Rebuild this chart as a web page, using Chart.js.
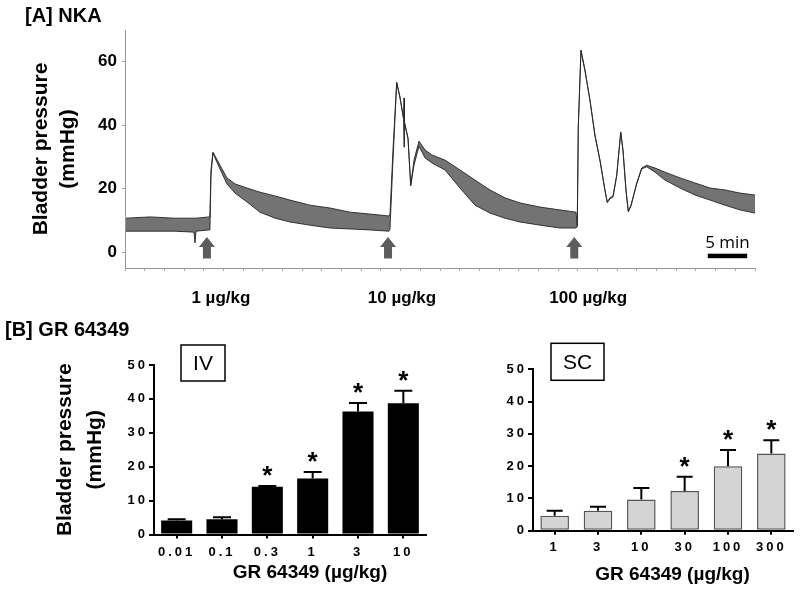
<!DOCTYPE html>
<html>
<head>
<meta charset="utf-8">
<script src="https://cdn.jsdelivr.net/npm/chart.js@4.4.1/dist/chart.umd.min.js"></script>
<style>
  body { margin: 0; background: #fff; }
  #page { position: relative; width: 800px; height: 589px; overflow: hidden; font-family: 'Liberation Sans', Arial, sans-serif; }
  canvas { position: absolute; }
  .panel-title { position: absolute; font-weight: bold; font-size: 20px; line-height: 24px; white-space: nowrap; }
</style>
</head>
<body>
<div id="page">
  <canvas id="traceChart" width="800" height="320" style="left:0;top:0"></canvas>
  <canvas id="ivChart" width="430" height="259" style="left:0;top:330px"></canvas>
  <canvas id="scChart" width="370" height="259" style="left:430px;top:330px"></canvas>
  <div class="panel-title" style="left:25px;top:3px">[A] NKA</div>
  <div class="panel-title" style="left:5px;top:317px">[B] GR 64349</div>
</div>
<script>
// ---- panel A: bladder pressure trace (time in min, pressure in mmHg)
const traceTime = [0.1, 3.2, 6.3, 8.76, 8.89, 9.02, 10.67, 10.79, 10.92, 11.17, 12.06, 12.95, 13.97, 15.49,
  17.14, 19.05, 20.95, 23.49, 26.03, 28.57, 31.11, 33.52, 33.65, 34.03, 34.5, 34.92, 35.37, 35.43, 35.49,
  35.94, 36.28, 36.7, 37.33, 38.1, 38.98, 40.63, 42.54, 44.44, 46.35, 48.25, 50.16, 52.7, 55.24, 57.27,
  57.43, 57.56, 57.9, 58.41, 59.05, 59.68, 60.32, 60.95, 61.24, 61.59, 61.97, 62.44, 62.95, 63.24, 63.62,
  63.91, 64.25, 64.98, 65.61, 66.25, 67.3, 68.57, 70.48, 72.38, 74.29, 76.19, 78.1, 80.0];
// upper and lower edge of the noisy recording band
const traceUpper = [10.7, 11.1, 10.7, 10.7, 10.7, 10.7, 11.1, 12.6, 25.9, 31.5, 27.4, 23.4, 21.5, 20.2,
  18.9, 17.7, 16.4, 14.8, 13.9, 12.6, 12.0, 11.4, 12.0, 32.2, 53.6, 48.9, 42.3, 48.6, 41.0,
  36.0, 21.1, 29.0, 35.0, 32.2, 30.6, 29.0, 25.9, 22.7, 19.6, 17.1, 15.5, 14.2, 13.3, 12.6,
  8.3, 39.5, 63.7, 57.4, 47.9, 36.9, 29.0, 19.6, 15.9, 17.1, 17.7, 24.3, 37.9, 32.2, 19.6,
  13.0, 14.8, 21.8, 26.5, 27.4, 26.5, 25.2, 23.4, 21.8, 20.2, 19.6, 18.6, 18.0];
const traceLower = [6.6, 6.6, 6.6, 6.3, 2.9, 6.6, 7.0, 7.6, 24.3, 31.2, 26.2, 21.5, 18.6, 15.8,
  12.6, 10.7, 9.5, 8.5, 7.6, 7.3, 7.0, 6.6, 7.3, 29.0, 53.3, 48.6, 42.0, 33.1, 40.7,
  35.7, 20.9, 27.4, 33.4, 29.7, 28.1, 25.9, 20.2, 14.8, 12.3, 10.7, 9.5, 8.5, 7.6, 7.6,
  8.0, 39.2, 63.4, 57.1, 47.6, 36.6, 28.7, 19.3, 15.6, 16.8, 17.4, 24.0, 37.6, 31.9, 19.3,
  12.7, 14.5, 21.5, 26.2, 26.9, 25.2, 22.7, 20.2, 18.0, 16.4, 14.8, 13.3, 12.3];
const traceYTicks = [0, 20, 40, 60];
const arrowTimes = [10.4, 33.4, 57.05];
const doseLabels = ["1 µg/kg", "10 µg/kg", "100 µg/kg"];
const arrowTip = 4.8;
const arrowBase = -2.0;
const scaleBarStart = 74.0;
const scaleBarMinutes = 5;
const scaleBarLevel = -1.2;

// ---- panel B: GR 64349 dose-response (mean + SEM, mmHg)
const ivDoses = ["0.01", "0.1", "0.3", "1", "3", "10"];
const ivMean = [4.1, 4.5, 14.1, 16.5, 36.3, 38.7];
const ivSem = [0.4, 0.6, 0.2, 1.9, 2.5, 3.7];
const ivSig = [false, false, true, true, true, true];

const scDoses = ["1", "3", "10", "30", "100", "300"];
const scMean = [4.65, 6.2, 9.7, 12.3, 20.0, 23.9];
const scSem = [1.55, 1.2, 3.5, 4.4, 5.0, 4.1];
const scSig = [false, false, false, true, true, true];

const barYTicks = [0, 10, 20, 30, 40, 50];

const FONT = "'Liberation Sans', Arial, sans-serif";
Chart.defaults.font.family = FONT;
Chart.defaults.color = "#000";
Chart.defaults.animation = false;
Chart.defaults.plugins.legend.display = false;
Chart.defaults.plugins.tooltip.enabled = false;

const toPoints = (xs, ys) => xs.map((x, i) => ({ x, y: ys[i] }));

// arrows, dose labels and the 5 min bar of the trace
const traceDecor = {
  id: "traceDecor",
  afterDraw(chart) {
    const { ctx, chartArea, scales: { x, y } } = chart;
    const tip = y.getPixelForValue(arrowTip);
    const base = y.getPixelForValue(arrowBase);
    ctx.save();
    ctx.fillStyle = "#5c5c5c";
    arrowTimes.forEach((t) => {
      const cx = x.getPixelForValue(t);
      ctx.beginPath();
      ctx.moveTo(cx, tip);
      ctx.lineTo(cx + 8, tip + 10);
      ctx.lineTo(cx + 4, tip + 10);
      ctx.lineTo(cx + 4, base);
      ctx.lineTo(cx - 4, base);
      ctx.lineTo(cx - 4, tip + 10);
      ctx.lineTo(cx - 8, tip + 10);
      ctx.closePath();
      ctx.fill();
    });

    ctx.fillStyle = "#000";
    ctx.textAlign = "center";
    ctx.textBaseline = "middle";
    ctx.font = "bold 17px " + FONT;
    arrowTimes.forEach((t, i) => {
      ctx.fillText(doseLabels[i], x.getPixelForValue(t) + 14, chartArea.bottom + 30);
    });

    const x0 = x.getPixelForValue(scaleBarStart);
    const x1 = x.getPixelForValue(scaleBarStart + scaleBarMinutes);
    const yb = y.getPixelForValue(scaleBarLevel);
    ctx.fillRect(x0, yb - 2.25, x1 - x0, 4.5);
    ctx.font = "17px 'Open Sans', sans-serif";
    ctx.fillText(scaleBarMinutes + " min", (x0 + x1) / 2, yb - 13);
    ctx.restore();
  },
};

new Chart(document.getElementById("traceChart"), {
  type: "line",
  data: {
    datasets: [
      {
        data: toPoints(traceTime, traceUpper),
        borderColor: "#262626",
        borderWidth: 0.9,
        pointRadius: 0,
        tension: 0,
        fill: false,
      },
      {
        data: toPoints(traceTime, traceLower),
        borderColor: "#262626",
        borderWidth: 0.9,
        pointRadius: 0,
        tension: 0,
        fill: "-1",
        backgroundColor: "#737373",
      },
    ],
  },
  options: {
    responsive: false,
    devicePixelRatio: 1,
    layout: { padding: { top: 30, right: 45, left: 0, bottom: 0 } },
    scales: {
      x: {
        type: "linear",
        min: 0,
        max: 80,
        ticks: { display: false, stepSize: 2.5 },
        grid: { drawOnChartArea: false, tickLength: 3, color: "#aaa" },
        border: { color: "#999", width: 1 },
        afterFit: (scale) => { scale.height = 52; },
      },
      y: {
        min: -5,
        max: 70,
        afterBuildTicks: (scale) => { scale.ticks = traceYTicks.map((v) => ({ value: v })); },
        ticks: { font: { size: 17, weight: "bold" }, padding: 5 },
        grid: { drawOnChartArea: false, tickLength: 3, color: "#999" },
        border: { color: "#999", width: 1 },
        title: {
          display: true,
          text: ["Bladder pressure", "(mmHg)"],
          font: { size: 21, weight: "bold", lineHeight: 1.29 },
          padding: { top: 28, bottom: 0 },
        },
        afterFit: (scale) => { scale.width = 125; },
      },
    },
  },
  plugins: [traceDecor],
});

// GraphPad-style letter-spaced tick labels
const spacedTicks = {
  id: "spacedTicks",
  afterUpdate(chart) {
    Object.values(chart.scales).forEach((s) => {
      if (s._spaced) return;
      const orig = s.drawLabels.bind(s);
      s.drawLabels = (area) => {
        chart.ctx.save();
        chart.ctx.letterSpacing = "3px";
        orig(area);
        chart.ctx.restore();
      };
      s._spaced = true;
    });
  },
};

// error bars, asterisks, route box and x title of a bar chart
const barDecor = {
  id: "barDecor",
  afterDraw(chart, args, o) {
    const { ctx, chartArea, scales: { x, y } } = chart;
    ctx.save();
    ctx.strokeStyle = "#000";
    ctx.fillStyle = "#000";
    ctx.lineWidth = 2;
    o.mean.forEach((m, i) => {
      const cx = x.getPixelForValue(i);
      const yTop = y.getPixelForValue(m);
      const yCap = y.getPixelForValue(m + o.sem[i]);
      ctx.beginPath();
      ctx.moveTo(cx, yTop);
      ctx.lineTo(cx, yCap);
      ctx.moveTo(cx - o.capWidth / 2, yCap);
      ctx.lineTo(cx + o.capWidth / 2, yCap);
      ctx.stroke();
      if (o.sig[i]) {
        ctx.font = "bold 26px " + FONT;
        ctx.textAlign = "center";
        ctx.textBaseline = "alphabetic";
        const mt = ctx.measureText("*");
        const mid = (mt.actualBoundingBoxAscent - mt.actualBoundingBoxDescent) / 2;
        ctx.fillText("*", cx, yCap - 15 + mid);
      }
    });

    const bx = chartArea.left + o.box.dx;
    const by = chartArea.top + o.box.dy;
    ctx.lineWidth = 1.5;
    ctx.strokeRect(bx, by, o.box.w, o.box.h);
    ctx.font = "21px " + FONT;
    ctx.textAlign = "center";
    ctx.textBaseline = "middle";
    ctx.fillText(o.box.text, bx + o.box.w / 2, by + o.box.h / 2 + 1);

    ctx.font = "bold 19px " + FONT;
    ctx.fillText(o.xTitle, (chartArea.left + chartArea.right) / 2 + o.titleDx, chartArea.bottom + o.titleDy);
    ctx.restore();
  },
};

const barAxis = (extra) => ({
  grid: { drawOnChartArea: false, color: "#000", lineWidth: 2, ...extra.grid },
  border: { color: "#000", width: 2 },
  ticks: { font: { size: 13, weight: "bold" }, ...extra.ticks },
  afterFit: extra.afterFit,
});

const makeBarChart = (id, c) =>
  new Chart(document.getElementById(id), {
    type: "bar",
    data: {
      labels: c.labels,
      datasets: [{
        data: c.mean,
        backgroundColor: c.fill,
        borderColor: c.border,
        borderWidth: c.borderWidth,
        borderSkipped: false,
        barPercentage: c.barPct,
        categoryPercentage: 1,
      }],
    },
    options: {
      responsive: false,
      devicePixelRatio: 1,
      layout: { padding: c.padding },
      scales: {
        x: barAxis({
          grid: { offset: false, tickLength: 4 },
          ticks: { padding: c.xTickPad },
          afterFit: (s) => { s.height = c.xHeight; },
        }),
        y: {
          ...barAxis({
            grid: { tickLength: 5 },
            ticks: { padding: 1 },
            afterFit: (s) => { s.width = c.yWidth; },
          }),
          min: 0,
          max: 50,
          afterBuildTicks: (s) => { s.ticks = barYTicks.map((v) => ({ value: v })); },
          title: c.yTitle,
        },
      },
      plugins: {
        barDecor: {
          mean: c.mean, sem: c.sem, sig: c.sig, capWidth: c.capWidth,
          box: c.box, xTitle: "GR 64349 (µg/kg)", titleDx: c.titleDx, titleDy: c.titleDy,
        },
      },
    },
    plugins: [spacedTicks, barDecor],
  });

makeBarChart("ivChart", {
  labels: ivDoses, mean: ivMean, sem: ivSem, sig: ivSig,
  fill: "#000", border: "#000", borderWidth: 0, barPct: 0.685, capWidth: 18,
  padding: { top: 35, right: 4, left: 0, bottom: 0 },
  xHeight: 54.5, yWidth: 154, xTickPad: 6,
  yTitle: {
    display: true,
    text: ["Bladder pressure", "(mmHg)"],
    font: { size: 21, weight: "bold", lineHeight: 1.43 },
    padding: { top: 50, bottom: 0 },
  },
  box: { text: "IV", dx: 27, dy: -20, w: 44, h: 36 },
  titleDx: 20, titleDy: 38.5,
});

makeBarChart("scChart", {
  labels: scDoses, mean: scMean, sem: scSem, sig: scSig,
  fill: "#d4d4d4", border: "#555", borderWidth: 1.5, barPct: 0.66, capWidth: 16,
  padding: { top: 39.3, right: 7, left: 0, bottom: 0 },
  xHeight: 58.3, yWidth: 103, xTickPad: 5,
  yTitle: { display: false },
  box: { text: "SC", dx: 18, dy: -26, w: 53, h: 37 },
  titleDx: 9.5, titleDy: 44.3,
});
</script>
</body>
</html>
